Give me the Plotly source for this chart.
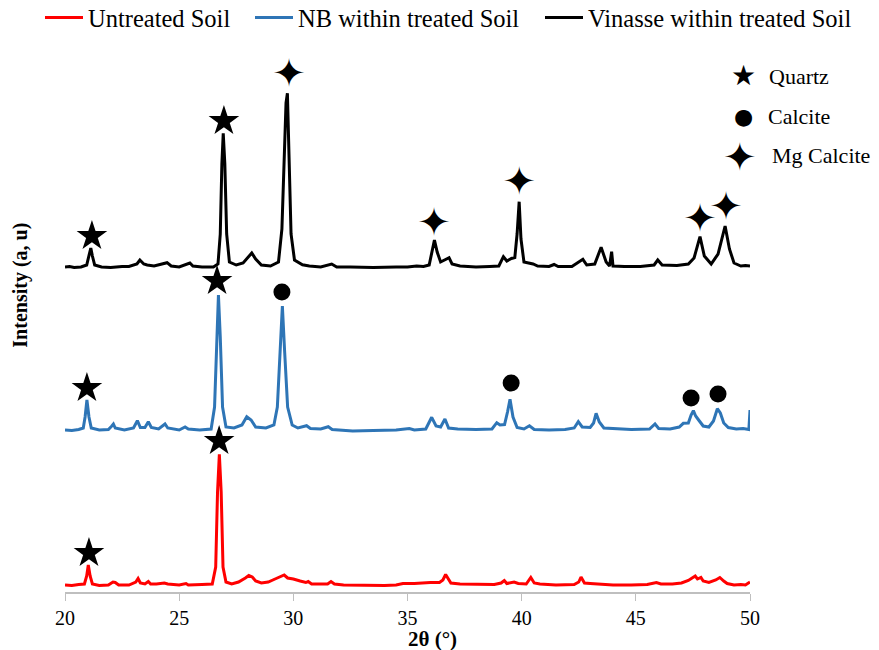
import plotly.graph_objects as go

# ---------------- data (2θ in degrees, intensity in arbitrary units) ----------------
untreated_2theta = [20.0, 20.3, 20.6, 20.85, 20.95, 21.02, 21.1, 21.2, 21.5, 21.9, 22.1, 22.2, 22.35, 22.8,
                    23.1, 23.2, 23.3, 23.5, 23.65, 23.75, 24.0, 24.35, 24.5, 25.0, 25.3, 25.4, 26.0, 26.45,
                    26.6, 26.68, 26.76, 26.84, 26.92, 27.05, 27.3, 27.6, 27.9, 28.05, 28.2, 28.35, 28.6, 28.9,
                    29.2, 29.5, 29.6, 29.75, 30.0, 30.3, 30.55, 30.65, 30.8, 31.2, 31.5, 31.65, 31.8, 32.2,
                    33.0, 34.0, 34.5, 34.8, 35.3, 35.5, 36.0, 36.4, 36.55, 36.67, 36.8, 36.9, 37.3, 38.0,
                    38.8, 39.1, 39.24, 39.35, 39.5, 39.67, 39.85, 40.2, 40.4, 40.55, 40.8, 41.5, 42.3, 42.5,
                    42.6, 42.75, 43.0, 43.5, 44.0, 44.8, 45.5, 45.9, 46.1, 46.6, 47.0, 47.3, 47.5, 47.6,
                    47.7, 47.85, 47.95, 48.2, 48.5, 48.68, 48.85, 49.0, 49.3, 49.6, 49.8, 50.0]
untreated_intensity = [7, 6.5, 7.5, 8, 16, 27, 16, 8, 6.5, 7, 10, 9.5, 7, 7,
                       10, 13.5, 9, 8, 10.5, 8, 8, 9, 8, 7, 8.5, 7, 7.5, 8,
                       25, 100, 137.7, 100, 25, 10, 8, 10, 14, 16.5, 15, 11, 9, 10,
                       13, 15.5, 17, 14, 13, 11, 9.5, 10.5, 8, 8, 8, 10.5, 8, 7,
                       6.5, 6.5, 7, 8.5, 8.5, 9, 9.5, 9.5, 12, 17.5, 12, 9, 8, 7.5,
                       7.5, 9, 11.5, 8.5, 9, 10, 8.5, 8, 14.5, 9, 8, 7, 7.5, 10,
                       15, 9, 8.5, 8, 7, 7, 7.5, 9.5, 8, 8, 9, 11.5, 14, 16,
                       13, 14.5, 11, 9.5, 12, 14.5, 11, 8.5, 7, 7.5, 7, 10]

nb_2theta = [20.0, 20.3, 20.6, 20.8, 20.88, 20.96, 21.05, 21.15, 21.5, 21.9, 22.05, 22.12, 22.2, 22.6,
             23.0, 23.17, 23.3, 23.5, 23.65, 23.78, 24.1, 24.38, 24.5, 25.0, 25.26, 25.4, 25.9, 26.4,
             26.55, 26.64, 26.72, 26.8, 26.9, 27.05, 27.4, 27.75, 27.96, 28.15, 28.35, 28.8, 29.15, 29.3,
             29.42, 29.52, 29.62, 29.75, 29.95, 30.2, 30.58, 30.75, 31.2, 31.53, 31.7, 32.2, 32.6, 33.5,
             34.5, 35.08, 35.3, 35.8, 36.06, 36.25, 36.45, 36.64, 36.8, 37.2, 38.0, 38.7, 38.91, 39.05,
             39.25, 39.38, 39.49, 39.62, 39.8, 40.1, 40.34, 40.55, 41.2, 41.9, 42.3, 42.48, 42.65, 43.0,
             43.15, 43.26, 43.4, 43.6, 44.2, 44.8, 45.6, 45.84, 46.0, 46.5, 46.9, 47.08, 47.3, 47.42,
             47.52, 47.62, 47.75, 47.95, 48.2, 48.4, 48.57, 48.7, 48.85, 49.05, 49.4, 49.7, 49.95, 50.0]
nb_intensity = [7, 6.5, 7.5, 9, 20, 37, 20, 9, 7, 7.5, 11, 13, 9, 7,
                9, 16.3, 9.5, 9.5, 15.3, 9.5, 8, 13, 9, 7, 10, 8, 7, 8,
                30, 100, 142, 100, 30, 10, 9, 12, 20.3, 17, 10, 9, 12, 30,
                85, 131, 85, 30, 12, 9, 11.3, 8.5, 8, 10.3, 7.5, 7, 6, 6.5,
                7, 8.5, 7, 8, 19.7, 11, 10, 18, 9, 8, 7.5, 8, 14.3, 12,
                12.5, 25, 37.7, 20, 9.5, 8, 11.3, 7.5, 7, 7.5, 9, 15.3, 10, 9.5,
                14, 23.7, 15, 9, 8, 7.5, 8, 13, 8.5, 8, 10, 13.7, 14, 22,
                26.3, 21, 17, 11, 10, 16, 28.3, 24, 14, 9.5, 8, 8.5, 7.5, 27]

vinasse_2theta = [20.0, 20.2, 20.4, 20.7, 20.95, 21.05, 21.13, 21.2, 21.3, 21.6, 22.0, 22.5, 22.8, 23.15,
                  23.28, 23.45, 23.6, 23.9, 24.1, 24.47, 24.65, 25.0, 25.47, 25.6, 26.0, 26.5, 26.7, 26.8,
                  26.87, 26.93, 27.0, 27.08, 27.2, 27.5, 27.8, 28.05, 28.18, 28.35, 28.6, 29.0, 29.35, 29.5,
                  29.6, 29.68, 29.74, 29.8, 29.9, 30.05, 30.4, 30.7, 31.2, 31.68, 31.9, 32.5, 33.5, 34.5,
                  35.0, 35.4, 35.7, 35.95, 36.1, 36.18, 36.3, 36.45, 36.82, 36.95, 37.3, 38.0, 38.6, 39.0,
                  39.2, 39.35, 39.55, 39.7, 39.8, 39.89, 39.97, 40.1, 40.5, 40.7, 41.2, 41.42, 41.6, 42.2,
                  42.68, 42.85, 43.2, 43.48, 43.7, 43.85, 43.94, 44.0, 44.5, 45.2, 45.8, 45.96, 46.15, 46.8,
                  47.3, 47.55, 47.81, 48.0, 48.3, 48.6, 48.91, 49.1, 49.3, 49.6, 49.8, 50.0]
vinasse_intensity = [7, 7.5, 6.5, 7, 9, 17, 26, 18, 9, 7, 6.5, 7.5, 7.5, 10,
                     14, 10, 9, 8, 9, 11.3, 8, 7, 11, 8, 7, 7, 10, 40,
                     110, 140.7, 110, 40, 12, 9, 11, 17, 21, 15, 9, 8, 12, 45,
                     130, 171, 180.7, 120, 40, 14, 9.3, 8, 7, 10, 7, 7, 6.5, 7,
                     7, 8, 7.5, 9, 25, 34, 22, 12, 16.3, 10, 8, 7, 7.5, 8,
                     17.3, 13, 15.5, 16.5, 40, 72.3, 35, 12, 10, 8, 7.5, 9.5, 7.5, 7.5,
                     14.7, 9, 10, 26.7, 12, 8, 22.3, 8, 7.5, 7.5, 9, 14, 9, 8.5,
                     10, 16, 37.3, 18, 10, 20, 48, 25, 11, 8, 8.5, 8]

# vertical stacking offsets of the three patterns
offset_untreated = 0
offset_nb = 155
offset_vinasse = 318

# phase identification marks (2θ, height on the stacked plot)
quartz_2theta = [21.05, 26.75, 20.96, 26.66, 21.18, 26.96]
quartz_height = [39, 151, 204, 311, 356, 471]
calcite_2theta = [29.5, 39.54, 47.42, 48.6]
calcite_height = [300, 209, 194, 198]
mgcalcite_2theta = [29.81, 36.16, 39.89, 47.81, 48.95]
mgcalcite_height = [520, 371, 412, 375, 387]

phase_names = ["Quartz", "Calcite", "Mg Calcite"]
phase_glyphs = ["★", "●", "✦"]

x_ticks = [20, 25, 30, 35, 40, 45, 50]

# ---------------- figure ----------------
FONT = "Liberation Serif"
GLYPH_FONT = "DejaVu Sans"
MG_GLYPH_SIZE = 40
MG_GLYPH_RAISE = -5  # glyph baseline correction (plot units == px here)

fig = go.Figure()

series = [
    ("Untreated Soil", untreated_2theta, untreated_intensity, offset_untreated, "#FF0000", "legend"),
    ("NB within treated Soil", nb_2theta, nb_intensity, offset_nb, "#2E75B6", "legend2"),
    ("Vinasse within treated Soil", vinasse_2theta, vinasse_intensity, offset_vinasse, "#000000", "legend3"),
]
for name, xs, ys, off, col, leg in series:
    fig.add_trace(go.Scatter(
        x=xs, y=[v + off for v in ys], mode="lines", name=name, legend=leg,
        line=dict(color=col, width=3),
    ))

fig.add_trace(go.Scatter(
    x=quartz_2theta, y=quartz_height, mode="markers", name="Quartz", showlegend=False,
    marker=dict(symbol="star", size=23, color="black", line=dict(width=0)),
))
fig.add_trace(go.Scatter(
    x=calcite_2theta, y=calcite_height, mode="markers", name="Calcite", showlegend=False,
    marker=dict(symbol="circle", size=17, color="black", line=dict(width=0)),
))
fig.add_trace(go.Scatter(
    x=mgcalcite_2theta, y=[h + MG_GLYPH_RAISE for h in mgcalcite_height], mode="text",
    name="Mg Calcite", showlegend=False,
    text=["✦"] * len(mgcalcite_2theta), textposition="middle center",
    textfont=dict(family=GLYPH_FONT, size=MG_GLYPH_SIZE, color="black"),
))

# phase key (upper right), paper coordinates
key_glyph_x = [0.8453, 0.8453, 0.8419]
key_label_x = [0.8726, 0.8714, 0.8760]
key_y = [0.9433, 0.8684, 0.7989]
key_glyph_size = [28, 22, 40]
key_glyph_yshift = [1, 0, -2]
annotations = []
for name, glyph, gx, lx, ky, gs, ys in zip(phase_names, phase_glyphs, key_glyph_x, key_label_x, key_y,
                                           key_glyph_size, key_glyph_yshift):
    annotations.append(dict(text=glyph, x=gx, y=ky, xref="paper", yref="paper", showarrow=False,
                            xanchor="center", yanchor="middle", yshift=ys,
                            font=dict(family=GLYPH_FONT, size=gs, color="black")))
    annotations.append(dict(text=name, x=lx, y=ky, xref="paper", yref="paper", showarrow=False,
                            xanchor="left", yanchor="middle",
                            font=dict(family=FONT, size=22, color="black")))

# axis titles
annotations.append(dict(text="<b>2θ (°)</b>", x=0.4915, y=-0.0859, xref="paper", yref="paper",
                        showarrow=False, xanchor="center", yanchor="middle",
                        font=dict(family=FONT, size=21, color="black")))
annotations.append(dict(text="<b>Intensity (a, u)</b>", x=0.0239, y=0.56, xref="paper", yref="paper",
                        showarrow=False, xanchor="center", yanchor="middle", textangle=-90,
                        font=dict(family=FONT, size=20, color="black")))

legend_style = dict(orientation="h", y=1.0914, xanchor="left", yanchor="top",
                    font=dict(family=FONT, size=24.5, color="black"), itemwidth=38,
                    bgcolor="rgba(0,0,0,0)")

fig.update_layout(
    width=879, height=650,
    margin=dict(l=0, r=0, t=45, b=58, autoexpand=False),
    plot_bgcolor="white", paper_bgcolor="white",
    font=dict(family=FONT, color="black", size=20),
    showlegend=True,
    legend=dict(x=40 / 879, **legend_style),
    legend2=dict(x=250 / 879, **legend_style),
    legend3=dict(x=540 / 879, **legend_style),
    xaxis=dict(domain=[65 / 879, 750 / 879], range=[20, 50], tickvals=x_ticks, ticks="outside",
               ticklen=7, tickcolor="#BFBFBF",
               showline=True, linecolor="#BFBFBF", linewidth=1.5, showgrid=False, zeroline=False,
               automargin=False, tickfont=dict(family=FONT, size=20, color="black")),
    yaxis=dict(range=[0, 547], showticklabels=False, showgrid=False, zeroline=False, showline=False,
               ticks="", automargin=False),
    annotations=annotations,
)

fig.write_html("out.html", config={"displayModeBar": False},
               post_script="document.body.style.margin='0px';")
